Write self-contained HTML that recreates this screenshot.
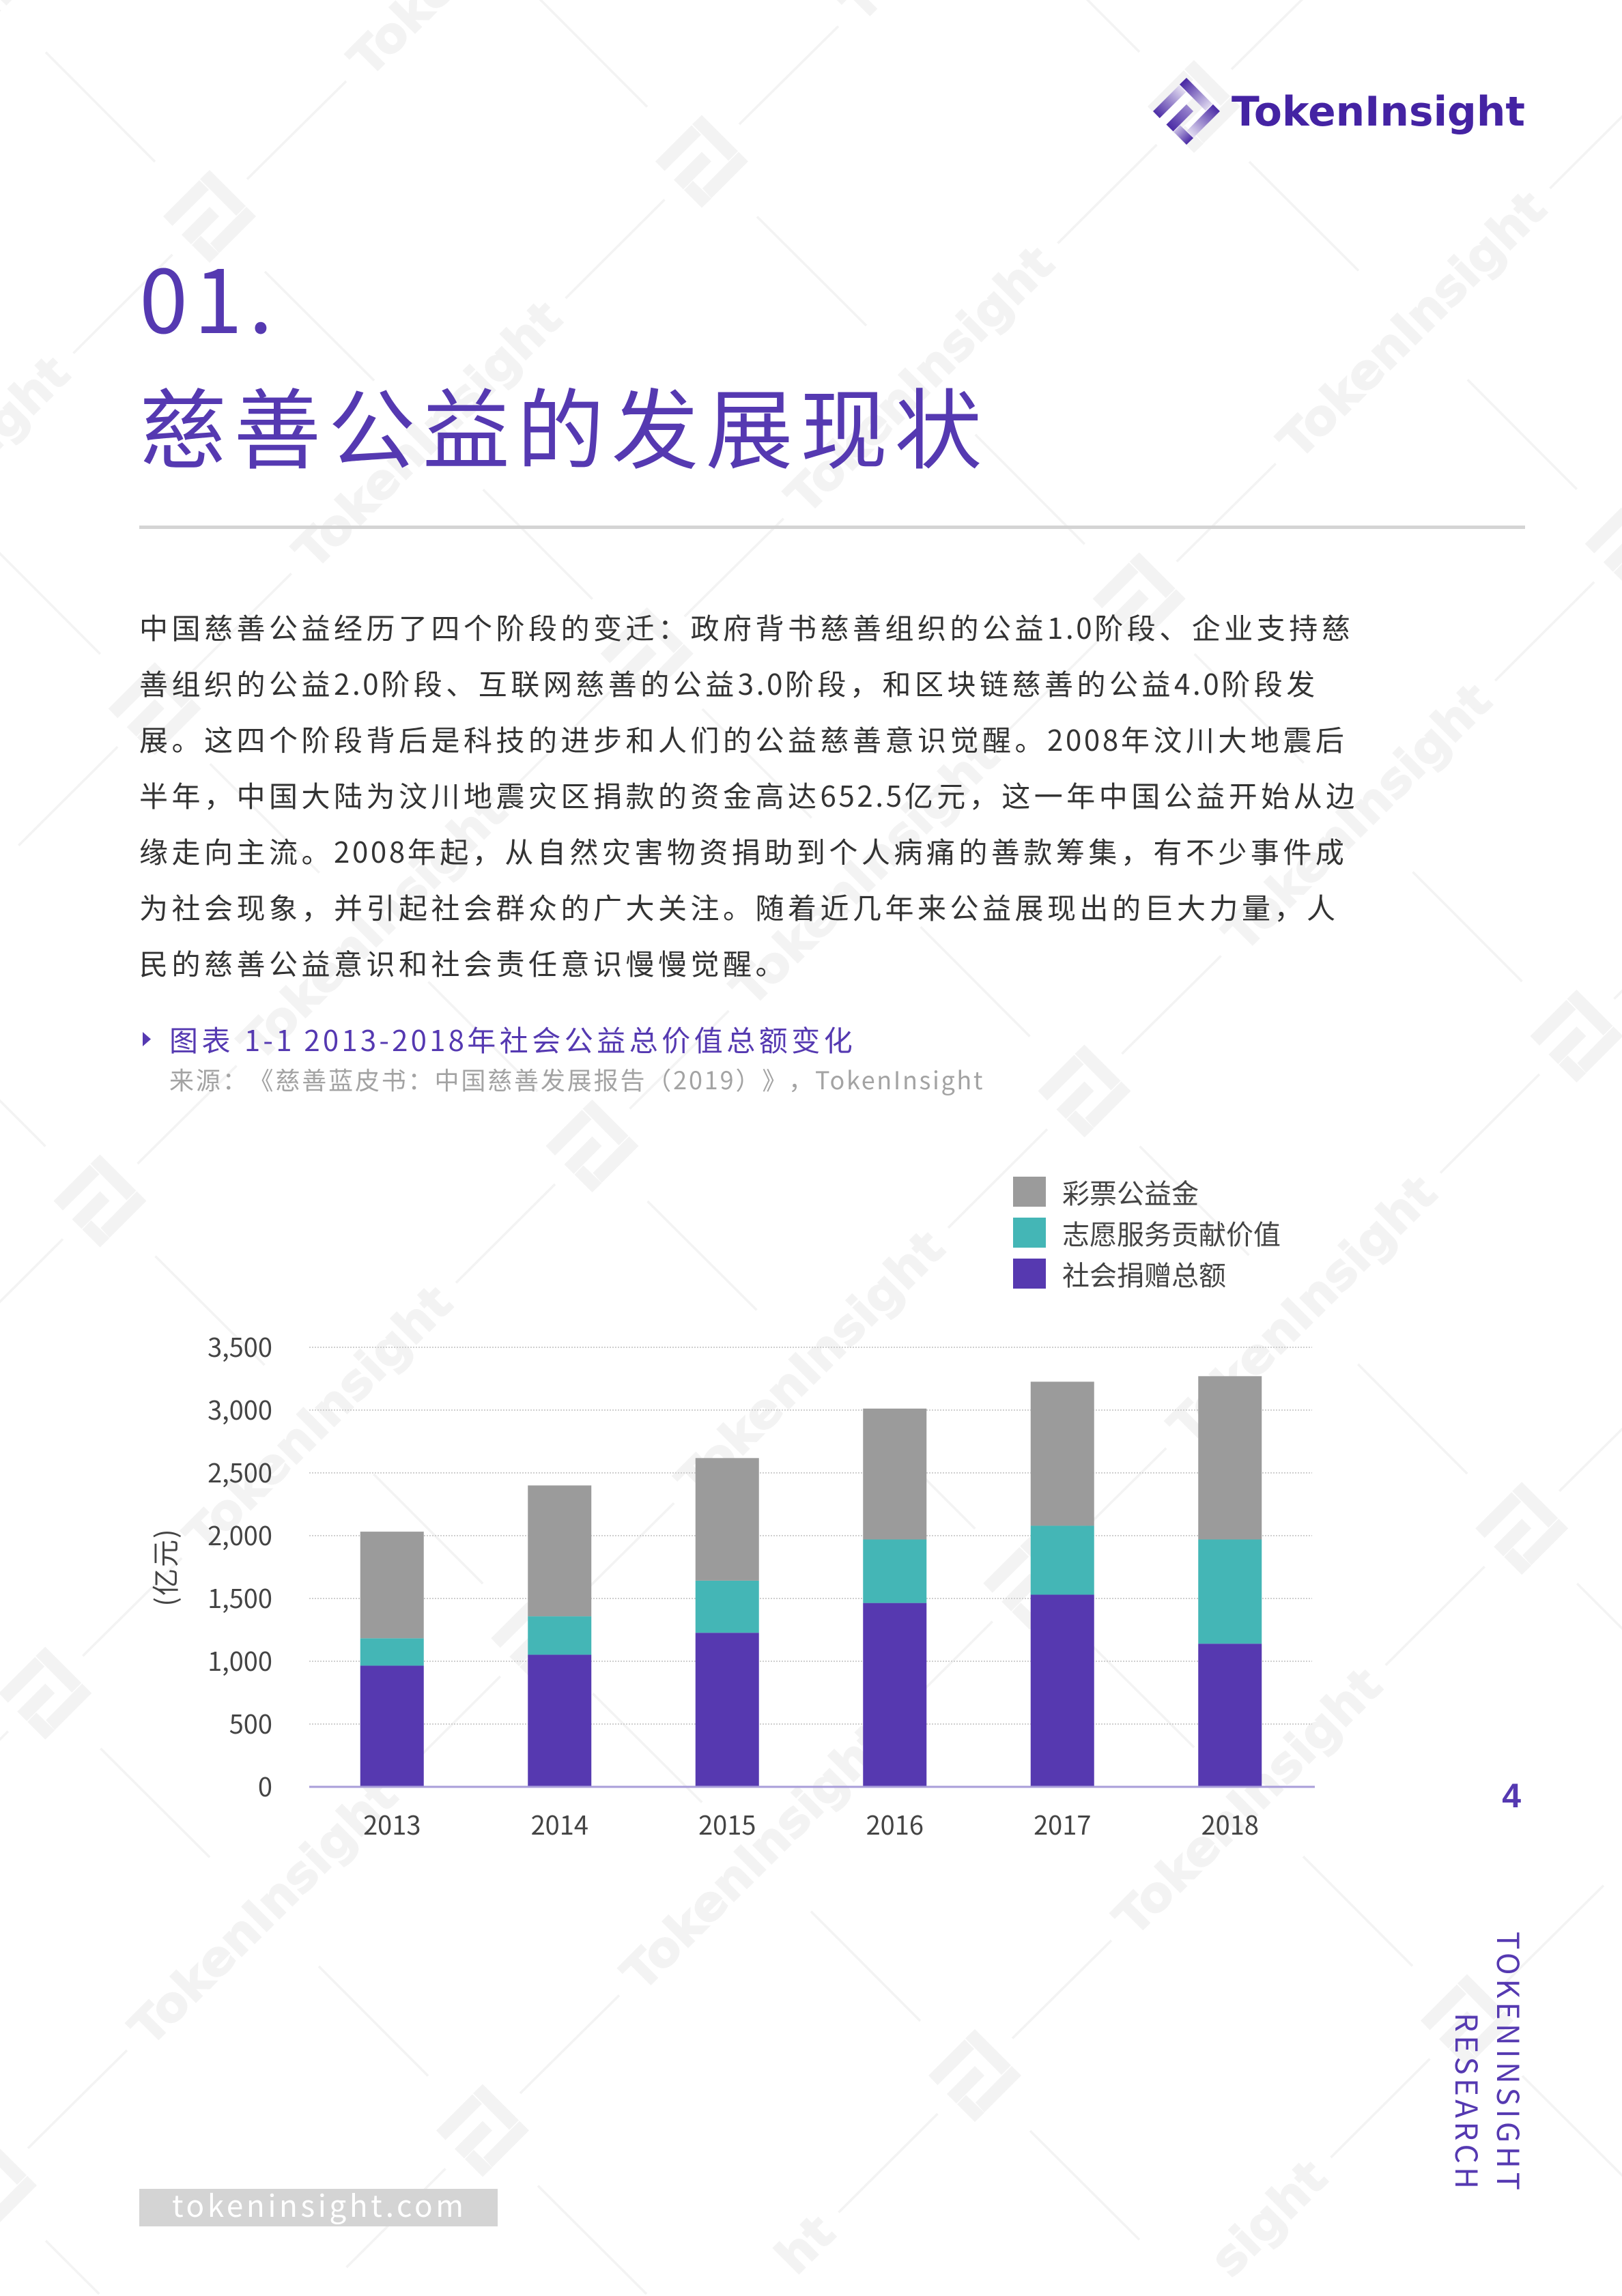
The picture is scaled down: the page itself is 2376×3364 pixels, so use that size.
<!DOCTYPE html>
<html lang="zh">
<head>
<meta charset="utf-8">
<title>TokenInsight 慈善公益的发展现状</title>
<style>
html,body{margin:0;padding:0;background:#fff;width:2376px;height:3364px;overflow:hidden}
svg{display:block}
text{font-family:"Noto Sans CJK SC","Liberation Sans",sans-serif;text-spacing-trim:space-all}
.body-line{font-size:42px;letter-spacing:5.5px;fill:#333}
.lat{letter-spacing:3.65px}
.title-lat{letter-spacing:4.2px}
.source-lat{letter-spacing:2.6px}
.chart-text{font-size:38px;fill:#444}
.legend-text{font-size:40px;fill:#444}
</style>
</head>
<body>
<svg id="page" xmlns="http://www.w3.org/2000/svg" width="2376" height="3364" viewBox="0 0 2376 3364">
  <defs>
    <clipPath id="pageClip"><rect x="0" y="0" width="2376" height="3364"/></clipPath>
    <symbol id="mark" viewBox="-70 -70 140 140" overflow="visible">
      <polygon points="0,-68 53,-15 39,-1 -14,-54.5"/>
      <polygon points="-68,0 -15,-53 -1,-39 -54.5,14"/>
      <polygon points="0,-14 14,0 -27,41 -41,27"/>
      <polygon points="54,-14 68,0 14,54 1,39.5"/>
      <polygon points="-13,28.5 14,54.5 0,68 -26,42"/>
    </symbol>
    <linearGradient id="gA" gradientUnits="userSpaceOnUse" x1="-5" y1="-60" x2="48" y2="-8"><stop offset="0" stop-color="#4a2aa5"/><stop offset="1" stop-color="#e2dcf1"/></linearGradient>
    <linearGradient id="gB" gradientUnits="userSpaceOnUse" x1="-8" y1="-46" x2="-62" y2="8"><stop offset="0" stop-color="#e2dcf1"/><stop offset="1" stop-color="#4a2aa5"/></linearGradient>
    <linearGradient id="gC" gradientUnits="userSpaceOnUse" x1="7" y1="-7" x2="-34" y2="34"><stop offset="0" stop-color="#9b88cf"/><stop offset="1" stop-color="#4a2aa5"/></linearGradient>
    <linearGradient id="gD" gradientUnits="userSpaceOnUse" x1="61" y1="-7" x2="8" y2="47"><stop offset="0" stop-color="#4a2aa5"/><stop offset="1" stop-color="#e2dcf1"/></linearGradient>
    <linearGradient id="gE" gradientUnits="userSpaceOnUse" x1="-20" y1="35" x2="7" y2="61"><stop offset="0" stop-color="#c9bfe5"/><stop offset="1" stop-color="#4a2aa5"/></linearGradient>
  </defs>

  <g id="watermark" clip-path="url(#pageClip)"></g>

  <g>
    <g transform="translate(1738 163) scale(0.72)">
      <polygon fill="url(#gA)" points="0,-68 53,-15 39,-1 -14,-54.5"/>
      <polygon fill="url(#gB)" points="-68,0 -15,-53 -1,-39 -54.5,14"/>
      <polygon fill="url(#gC)" points="0,-14 14,0 -27,41 -41,27"/>
      <polygon fill="url(#gD)" points="54,-14 68,0 14,54 1,39.5"/>
      <polygon fill="url(#gE)" points="-13,28.5 14,54.5 0,68 -26,42"/>
    </g>
    <text x="1804" y="184" textLength="430" lengthAdjust="spacingAndGlyphs" style="font-family:'DejaVu Sans','Liberation Sans',sans-serif;font-size:60px;font-weight:700;fill:#4423a3">TokenInsight</text>
  </g>

  <text x="204" y="488" style="font-size:128px;letter-spacing:9px;fill:#5539b1">01.</text>
  <text x="204" y="676" style="font-size:128px;letter-spacing:10.3px;fill:#5539b1">慈善公益的发展现状</text>
  <rect x="204" y="770" width="2030" height="5" fill="#d4d4d4"/>

  <g>
    <text class="body-line" x="204" y="936">中国慈善公益经历了四个阶段的变迁：政府背书慈善组织的公益<tspan class="lat">1.0</tspan>阶段、企业支持慈</text>
    <text class="body-line" x="204" y="1018">善组织的公益<tspan class="lat">2.0</tspan>阶段、互联网慈善的公益<tspan class="lat">3.0</tspan>阶段，和区块链慈善的公益<tspan class="lat">4.0</tspan>阶段发</text>
    <text class="body-line" x="204" y="1100">展。这四个阶段背后是科技的进步和人们的公益慈善意识觉醒。<tspan class="lat">2008</tspan>年汶川大地震后</text>
    <text class="body-line" x="204" y="1182">半年，中国大陆为汶川地震灾区捐款的资金高达<tspan class="lat">652.5</tspan>亿元，这一年中国公益开始从边</text>
    <text class="body-line" x="204" y="1264">缘走向主流。<tspan class="lat">2008</tspan>年起，从自然灾害物资捐助到个人病痛的善款筹集，有不少事件成</text>
    <text class="body-line" x="204" y="1346">为社会现象，并引起社会群众的广大关注。随着近几年来公益展现出的巨大力量，人</text>
    <text class="body-line" x="204" y="1428">民的慈善公益意识和社会责任意识慢慢觉醒。</text>
  </g>

  <polygon points="209,1512 221,1522.5 209,1533" fill="#5539b1"/>
  <text x="248" y="1540" style="font-size:42px;letter-spacing:5.5px;fill:#5539b1">图表 <tspan class="title-lat">1-1 2013-2018</tspan>年社会公益总价值总额变化</text>
  <text x="248" y="1596" style="font-size:36px;letter-spacing:2.85px;fill:#a3a3a3">来源：《慈善蓝皮书：中国慈善发展报告（2019）》，<tspan class="source-lat">TokenInsight</tspan></text>

  <g id="chart"></g>

  <g>
    <g>
      <rect x="1484" y="1724" width="48" height="44" fill="#9b9b9b"/>
      <text class="legend-text" x="1556" y="1763">彩票公益金</text>
    </g>
    <g>
      <rect x="1484" y="1784" width="48" height="44" fill="#44b6b6"/>
      <text class="legend-text" x="1556" y="1823">志愿服务贡献价值</text>
    </g>
    <g>
      <rect x="1484" y="1844" width="48" height="44" fill="#5639b0"/>
      <text class="legend-text" x="1556" y="1883">社会捐赠总额</text>
    </g>
  </g>

  <text x="2228" y="2648" text-anchor="end" style="font-family:'Liberation Sans',sans-serif;font-size:50px;font-weight:700;fill:#5539b1">4</text>
  <text transform="translate(2193 3209) rotate(90)" text-anchor="end" textLength="379" lengthAdjust="spacing" style="font-size:44px;fill:#5539b1">TOKENINSIGHT</text>
  <text transform="translate(2132 3207) rotate(90)" text-anchor="end" textLength="258" lengthAdjust="spacing" style="font-size:44px;fill:#5539b1">RESEARCH</text>

  <g>
    <rect x="204" y="3207" width="525" height="55" fill="#d4d4d4"/>
    <text x="252" y="3248" textLength="427" lengthAdjust="spacing" style="font-size:44px;fill:#fff">tokeninsight.com</text>
  </g>
</svg>

<script>
// Chart data (亿元)
const categories = ['2013', '2014', '2015', '2016', '2017', '2018'];
const donationValues = [965, 1052, 1227, 1464, 1530, 1140];
const volunteerValues = [218, 306, 415, 506, 549, 830];
const lotteryValues = [849, 1042, 976, 1042, 1147, 1300];
const tickValues = [0, 500, 1000, 1500, 2000, 2500, 3000, 3500];
const tickLabels = ['0', '500', '1,000', '1,500', '2,000', '2,500', '3,000', '3,500'];

const NS = 'http://www.w3.org/2000/svg';
const chart = document.getElementById('chart');
const watermark = document.getElementById('watermark');

const plotLeft = 453, plotRight = 1926, plotBottom = 2618, plotTop = 1974, axisMax = 3500;
const barWidth = 93, barShift = -1.5;
function xCenter(i) { return plotLeft + barShift + (plotRight - plotLeft) * (i + 0.5) / categories.length; }
function yScale(v) { return plotBottom - (plotBottom - plotTop) * v / axisMax; }

function make(tag, parent) {
  const el = document.createElementNS(NS, tag);
  parent.appendChild(el);
  return el;
}

// Watermark lattice
const originX = 1428, originY = 3041;
const ax = 721, ay = -80.5, bx = -80.25, by = 721.25;
const pageBottom = 3364;
function inPage(x, y, m) { return x > -m && x < 2376 + m && y > -m && y < pageBottom + m; }
function drawMark(x, y) {
  if (inPage(x, y, 68) && y + 70 <= pageBottom) {
    const use = make('use', watermark);
    use.setAttribute('href', '#mark');
    use.setAttribute('x', x - 70);
    use.setAttribute('y', y - 70);
    use.setAttribute('width', 140);
    use.setAttribute('height', 140);
    use.setAttribute('fill', '#f3f3f3');
    
    
  }
  const spokes = [[-80, -80, -240, -240.5], [55, -54.5, 200, -198], [-54.5, 56, -199.5, 200.5], [81, 81, 241, 240.5]];
  spokes.forEach(function (s) {
    const x1 = x + s[0], y1 = y + s[1];
    let x2 = x + s[2], y2 = y + s[3];
    if (!inPage(x1, y1, 0) && !inPage(x2, y2, 0)) return;
    if (y1 >= pageBottom - 3) return;
    if (y2 > pageBottom - 3) {
      x2 = x1 + (x2 - x1) * (pageBottom - 3 - y1) / (y2 - y1);
      y2 = pageBottom - 3;
    }
    const ln = make('line', watermark);
    ln.setAttribute('x1', x1);
    ln.setAttribute('y1', y1);
    ln.setAttribute('x2', x2);
    ln.setAttribute('y2', y2);
    ln.setAttribute('stroke', '#f3f3f3');
    ln.setAttribute('stroke-width', '3.5');
    
    
  });
}
const wordText = 'TokenInsight';
const wordLength = 518;
function drawWord(x, y) {
  const t = make('text', watermark);
  t.textContent = wordText;
  t.setAttribute('transform', 'translate(' + x + ' ' + y + ') rotate(-45)');
  t.setAttribute('x', wordLength / 2);
  t.setAttribute('y', 23);
  t.setAttribute('text-anchor', 'end');
  t.setAttribute('fill', '#f3f3f3');
  t.setAttribute('stroke', '#f3f3f3');
  t.setAttribute('stroke-width', '2');
  t.style.fontFamily = '"DejaVu Sans","Liberation Sans",sans-serif';
  t.style.fontSize = '70px';
  t.style.fontWeight = '700';
  
  
  const ratio = wordLength / t.getComputedTextLength();
  t.setAttribute('lengthAdjust', 'spacingAndGlyphs');
  // Words that cross the page's bottom edge keep only the letters still on the page.
  let k = 0;
  while (true) {
    t.removeAttribute('textLength');
    t.textContent = wordText.slice(k);
    if (k >= wordText.length) { t.remove(); return; }
    t.setAttribute('textLength', t.getComputedTextLength() * ratio);
    if (t.getBoundingClientRect().bottom <= pageBottom) return;
    k++;
  }
}
for (let i = -7; i <= 7; i++) {
  for (let j = -7; j <= 7; j++) {
    const mx = originX + i * ax + j * bx;
    const my = originY + i * ay + j * by;
    if (inPage(mx, my, 300)) drawMark(mx, my);
    const wx = mx + (ax + bx) / 2;
    const wy = my + (ay + by) / 2;
    if (inPage(wx, wy, 170)) drawWord(wx, wy);
  }
}

// Gridlines and tick labels
tickValues.forEach(function (v, i) {
  const y = yScale(v);
  if (v > 0) {
    const g = make('line', chart);
    g.setAttribute('x1', plotLeft);
    g.setAttribute('x2', 1922);
    g.setAttribute('y1', y);
    g.setAttribute('y2', y);
    g.setAttribute('stroke', '#cfcfcf');
    g.setAttribute('stroke-width', '2');
    g.setAttribute('stroke-dasharray', '2 2');
    
    
  }
  const t = make('text', chart);
  t.textContent = tickLabels[i];
  t.setAttribute('x', 399);
  t.setAttribute('y', y + 14);
  t.setAttribute('text-anchor', 'end');
  t.setAttribute('class', 'chart-text');
  
  
});

// Stacked bars
function drawSegment(i, base, value, color, name) {
  const r = make('rect', chart);
  const yTop = yScale(base + value);
  r.setAttribute('x', xCenter(i) - barWidth / 2);
  r.setAttribute('y', yTop);
  r.setAttribute('width', barWidth);
  r.setAttribute('height', yScale(base) - yTop);
  r.setAttribute('fill', color);
  
  
}
categories.forEach(function (c, i) {
  drawSegment(i, 0, donationValues[i], '#5639b0', 'bar-donation');
  drawSegment(i, donationValues[i], volunteerValues[i], '#44b6b6', 'bar-volunteer');
  drawSegment(i, donationValues[i] + volunteerValues[i], lotteryValues[i], '#9b9b9b', 'bar-lottery');
  const t = make('text', chart);
  t.textContent = c;
  t.setAttribute('x', xCenter(i));
  t.setAttribute('y', 2688);
  t.setAttribute('text-anchor', 'middle');
  t.setAttribute('class', 'chart-text');
  
  
});

// Axis line
const axisLine = make('line', chart);
axisLine.setAttribute('x1', plotLeft);
axisLine.setAttribute('x2', plotRight);
axisLine.setAttribute('y1', plotBottom);
axisLine.setAttribute('y2', plotBottom);
axisLine.setAttribute('stroke', '#a99ed9');
axisLine.setAttribute('stroke-width', '3');



// Y axis title
const yTitle = make('text', chart);
yTitle.textContent = '(亿元)';
yTitle.setAttribute('transform', 'translate(257 2296) rotate(-90)');
yTitle.setAttribute('text-anchor', 'middle');
yTitle.setAttribute('class', 'chart-text');
yTitle.style.fontSize = '40px';
yTitle.style.letterSpacing = '2px';


</script>
</body>
</html>
